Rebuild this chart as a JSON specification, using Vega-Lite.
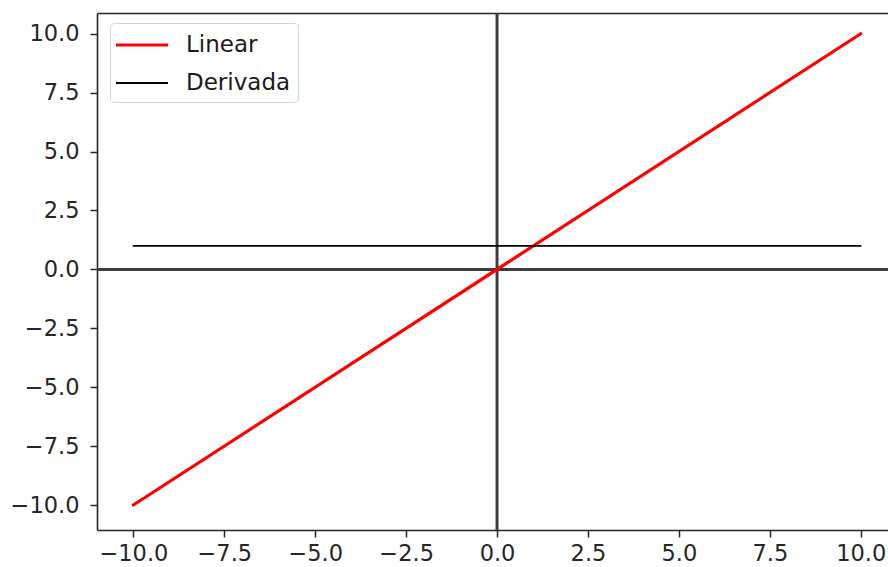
{
  "$schema": "https://vega.github.io/schema/vega-lite/v6.json",
  "autosize": {"type": "none"},
  "padding": {"left": 97, "top": 13, "right": 0, "bottom": 37},
  "width": 791,
  "height": 517,
  "background": "white",
  "config": {
    "view": {"stroke": null},
    "font": "DejaVu Sans",
    "axis": {
      "labelFont": "DejaVu Sans",
      "labelFontSize": 22.5,
      "labelColor": "#262626",
      "domainColor": "#262626",
      "domainWidth": 1.6,
      "tickColor": "#262626",
      "tickWidth": 1.5,
      "tickSize": 7,
      "grid": false,
      "title": null
    },
    "legend": {
      "title": null, "orient": "none", "legendX": 13, "legendY": 10,
      "fillColor": "white", "strokeColor": "#d4d4d4", "cornerRadius": 4, "padding": 7,
      "labelFont": "DejaVu Sans", "labelFontSize": 23, "labelColor": "#1a1a1a", "labelOffset": 29,
      "symbolType": "M-2,0H2", "symbolSize": 676, "symbolOffset": 10, "rowPadding": 12
    }
  },
  "data": {
    "values": [
      {"x": -10, "y": -10, "serie": "Linear"},
      {"x": 10, "y": 10, "serie": "Linear"},
      {"x": -10, "y": 1, "serie": "Derivada"},
      {"x": 10, "y": 1, "serie": "Derivada"}
    ]
  },
  "resolve": {"axis": {"x": "independent"}},
  "layer": [
    {
      "mark": {"type": "rule", "color": "#3d3d3d", "strokeWidth": 3},
      "data": {"values": [{"zero": 0}]},
      "encoding": {
        "x": {"field": "zero", "type": "quantitative", "scale": {"domain": [-11, 10.75], "nice": false, "zero": false},
          "axis": {"orient": "top", "labels": false, "ticks": false, "domain": true}}
      }
    },
    {
      "mark": {"type": "rule", "color": "#3d3d3d", "strokeWidth": 3},
      "data": {"values": [{"zero": 0}]},
      "encoding": {
        "y": {"field": "zero", "type": "quantitative", "scale": {"domain": [-11.06, 10.88], "nice": false, "zero": false},
          "axis": {"orient": "left", "values": [-10, -7.5, -5, -2.5, 0, 2.5, 5, 7.5, 10], "format": ".1f", "labelPadding": 11}}
      }
    },
    {
      "mark": {"type": "line", "strokeCap": "round"},
      "encoding": {
        "x": {"field": "x", "type": "quantitative", "scale": {"domain": [-11, 10.75], "nice": false, "zero": false},
          "axis": {"orient": "bottom", "values": [-10, -7.5, -5, -2.5, 0, 2.5, 5, 7.5, 10], "format": ".1f", "labelPadding": 5}},
        "y": {"field": "y", "type": "quantitative", "scale": {"domain": [-11.06, 10.88], "nice": false, "zero": false},
          "axis": {"orient": "left", "values": [-10, -7.5, -5, -2.5, 0, 2.5, 5, 7.5, 10], "format": ".1f", "labelPadding": 11}},
        "color": {"field": "serie", "type": "nominal",
          "scale": {"domain": ["Linear", "Derivada"], "range": ["#ff0000", "#000000"]}},
        "strokeWidth": {"field": "serie", "type": "nominal",
          "scale": {"domain": ["Linear", "Derivada"], "range": [3.2, 1.8]}}
      }
    }
  ]
}
